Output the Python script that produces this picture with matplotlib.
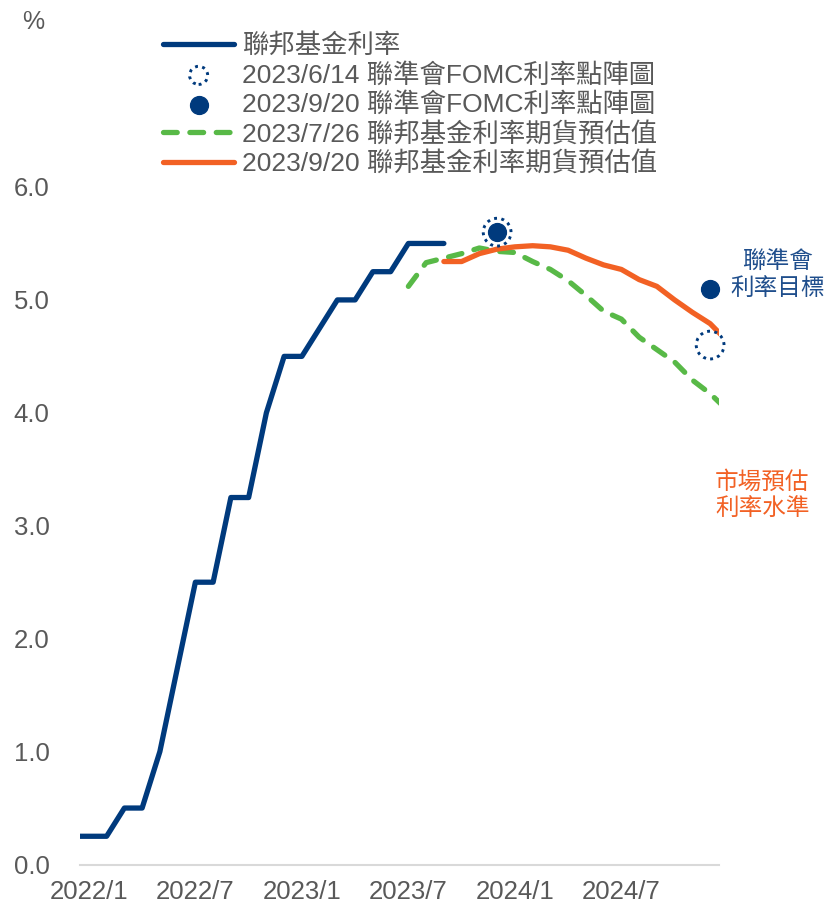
import numpy as np
import matplotlib.pyplot as plt

plt.rcParams['font.family'] = ['Liberation Sans', 'Noto Sans CJK TC']

NAVY = '#003A7D'
GREEN = '#58B947'
ORANGE = '#F26124'
GRAY = '#595959'

# x positions are month indices, 0 = 2022/1
months = [f"{y}/{m}" for y in (2022, 2023, 2024) for m in range(1, 13)]
tick_idx = [0, 6, 12, 18, 24, 30]

# fed funds target upper bound, 2021/12 .. 2023/9
fed_x = np.arange(-1, 21)
fed_rate = [0.25, 0.25, 0.25, 0.5, 0.5, 1.0, 1.75, 2.5, 2.5, 3.25, 3.25,
            4.0, 4.5, 4.5, 4.75, 5.0, 5.0, 5.25, 5.25, 5.5, 5.5, 5.5]

# futures implied path as of 2023/7/26, 2023/7 .. 2025/1
fut_jul_x = np.arange(18, 37)
fut_jul = [5.12, 5.33, 5.37, 5.41, 5.46, 5.43, 5.42, 5.34, 5.27, 5.17,
           5.04, 4.90, 4.83, 4.67, 4.56, 4.45, 4.29, 4.17, 4.02]

# futures implied path as of 2023/9/20, 2023/9 .. 2025/1
fut_sep_x = np.arange(20, 37)
fut_sep = [5.34, 5.34, 5.41, 5.45, 5.47, 5.48, 5.47, 5.44, 5.37, 5.31,
           5.27, 5.18, 5.12, 5.00, 4.89, 4.79, 4.63]

# FOMC dot plot medians (2023 end, 2024 end)
dot_x = [23, 35]
dots_jun = [5.6, 4.6]
dots_sep = [5.6, 5.1]

DASH = (2.6, 2.4)
DOTS = (0, (1, 1.5))

fig = plt.figure(figsize=(8.28, 9.07), dpi=100)
ax = fig.add_axes([80 / 828, (907 - 864.5) / 907, (719 - 80) / 828, (864.5 - 187) / 907])

ax.plot(fed_x, fed_rate, color=NAVY, lw=3.8, solid_capstyle='round', zorder=3)
ax.plot(fut_jul_x, fut_jul, color=GREEN, lw=3.8, dashes=DASH,
        dash_capstyle='round', zorder=2)
ax.plot(fut_sep_x, fut_sep, color=ORANGE, lw=3.8, solid_capstyle='round', zorder=4)

ax.scatter(dot_x, dots_jun, s=400, facecolors='none', edgecolors=NAVY,
           linewidths=2.1, linestyles=DOTS, zorder=5, clip_on=False)
ax.scatter(dot_x, dots_sep, s=165, color=NAVY, zorder=6, clip_on=False)

ax.set_xlim(-0.5, 35.5)
ax.set_ylim(0, 6)
ax.set_xticks(tick_idx)
ax.set_xticklabels([months[i] for i in tick_idx])
ax.set_yticks(np.arange(0, 7, 1))
ax.set_yticklabels([f"{v:.1f}" for v in np.arange(0, 7, 1)])
ax.tick_params(axis='both', length=0, labelsize=18.5, colors=GRAY)
ax.tick_params(axis='y', pad=22)
ax.tick_params(axis='x', pad=11)
for side in ['top', 'right', 'left']:
    ax.spines[side].set_visible(False)
ax.spines['bottom'].set_color('#D9D9D9')
ax.spines['bottom'].set_linewidth(1.5)

fig.text(22 / 828, 1 - 22 / 907, '%', fontsize=18, color=GRAY, ha='left', va='center')

# side notes
ax.text(38.8, 5.33, '聯準會', fontsize=17, color='#1F4E8C', ha='center', va='center', clip_on=False)
ax.text(38.8, 5.10, '利率目標', fontsize=17, color='#1F4E8C', ha='center', va='center', clip_on=False)
ax.text(37.95, 3.38, '市場預估', fontsize=17, color=ORANGE, ha='center', va='center', clip_on=False)
ax.text(37.95, 3.15, '利率水準', fontsize=17, color=ORANGE, ha='center', va='center', clip_on=False)

# legend proxies
h1, = ax.plot([], [], color=NAVY, lw=3.8, solid_capstyle='round')
h2 = ax.scatter([], [], s=170, facecolors='none', edgecolors=NAVY,
                linewidths=2.1, linestyles=DOTS)
h3 = ax.scatter([], [], s=165, color=NAVY)
h4, = ax.plot([], [], color=GREEN, lw=3.8, dashes=DASH, dash_capstyle='round')
h5, = ax.plot([], [], color=ORANGE, lw=3.8, solid_capstyle='round')
labels = ['聯邦基金利率', '2023/6/14 聯準會FOMC利率點陣圖', '2023/9/20 聯準會FOMC利率點陣圖',
          '2023/7/26 聯邦基金利率期貨預估值', '2023/9/20 聯邦基金利率期貨預估值']
leg = fig.legend([h1, h2, h3, h4, h5], labels, loc='upper left',
                 bbox_to_anchor=(163 / 828, 1 - 33 / 907), frameon=False,
                 fontsize=19, handlelength=2.7, handletextpad=0.3,
                 labelspacing=0.18, borderpad=0, borderaxespad=0, scatterpoints=1)
for t in leg.get_texts():
    t.set_color(GRAY)

fig.savefig('out.png', dpi=100)
